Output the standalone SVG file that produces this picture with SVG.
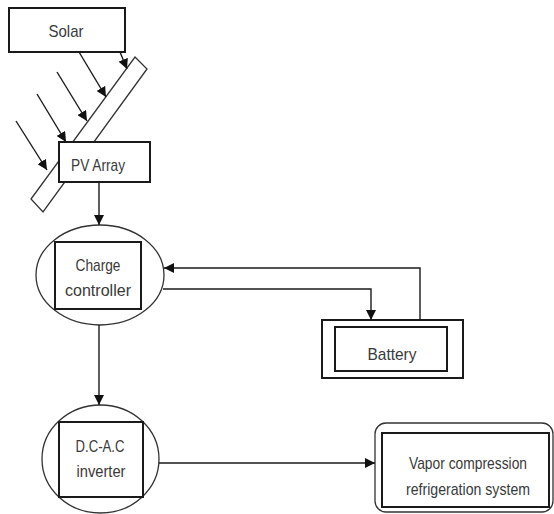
<svg xmlns="http://www.w3.org/2000/svg" width="554" height="514" viewBox="0 0 554 514">
<style>
  .box { fill: #fff; stroke: #1a1a1a; stroke-width: 2; }
  .thin { fill: #fff; stroke: #333; stroke-width: 1.3; }
  .edge { fill: none; stroke: #1a1a1a; stroke-width: 1.4; }
  .lbl { font-family: "Liberation Sans", Arial, sans-serif; font-size: 17px; fill: #3a3a3a; text-anchor: middle; }
</style>
<defs>
  <marker id="ah" viewBox="0 0 10 10" refX="10" refY="5" markerWidth="10" markerHeight="10" markerUnits="userSpaceOnUse" orient="auto">
    <path d="M0,0 L10,5 L0,10 z" fill="#111"/>
  </marker>
</defs>
<rect width="554" height="514" fill="#fff"/>

<g id="solar">
  <rect class="box" x="9" y="8" width="116" height="44"/>
  <text class="lbl" x="66" y="37" font-size="18" textLength="35" lengthAdjust="spacingAndGlyphs">Solar</text>
</g>

<g id="panel">
  <polygon class="thin" points="135,57 147,69 43,212 31,199" stroke-width="1.5"/>
</g>

<g id="rays">
  <line class="edge" x1="120" y1="52" x2="127" y2="69" marker-end="url(#ah)"/>
  <line class="edge" x1="79" y1="52" x2="106" y2="97" marker-end="url(#ah)"/>
  <line class="edge" x1="57" y1="72" x2="87" y2="121" marker-end="url(#ah)"/>
  <line class="edge" x1="37" y1="94" x2="66" y2="142" marker-end="url(#ah)"/>
  <line class="edge" x1="16" y1="121" x2="47" y2="170" marker-end="url(#ah)"/>
</g>

<g id="pv-array">
  <rect class="box" x="59" y="142" width="91" height="40"/>
  <text class="lbl" x="98" y="171" textLength="54" lengthAdjust="spacingAndGlyphs">PV Array</text>
</g>

<g id="charge-controller">
  <ellipse class="thin" cx="100" cy="275" rx="64" ry="50"/>
  <rect class="box" x="55" y="242" width="86" height="67"/>
  <text class="lbl" x="98" y="271" textLength="45" lengthAdjust="spacingAndGlyphs">Charge</text>
  <text class="lbl" x="98" y="296" textLength="66" lengthAdjust="spacingAndGlyphs">controller</text>
</g>

<g id="battery">
  <rect class="box" x="322" y="320" width="141" height="58"/>
  <rect class="box" x="335" y="327" width="112" height="44"/>
  <text class="lbl" x="392" y="360" textLength="49" lengthAdjust="spacingAndGlyphs">Battery</text>
</g>

<g id="inverter">
  <ellipse class="thin" cx="100.5" cy="459" rx="58.5" ry="54"/>
  <rect class="box" x="59" y="422" width="84" height="75"/>
  <text class="lbl" x="100" y="452" textLength="49" lengthAdjust="spacingAndGlyphs">D.C-A.C</text>
  <text class="lbl" x="101" y="477" textLength="49" lengthAdjust="spacingAndGlyphs">inverter</text>
</g>

<g id="vapor-system">
  <rect class="thin" x="375" y="423" width="178" height="89" rx="11" ry="11" stroke-width="1.6"/>
  <rect class="box" x="382" y="433" width="167" height="74" stroke-width="2.4"/>
  <text class="lbl" x="468" y="469" textLength="118" lengthAdjust="spacingAndGlyphs">Vapor compression</text>
  <text class="lbl" x="468" y="495" textLength="124" lengthAdjust="spacingAndGlyphs">refrigeration system</text>
</g>

<g id="connectors">
  <line class="edge" x1="99" y1="182" x2="99" y2="225" marker-end="url(#ah)"/>
  <polyline class="edge" points="163,289 371,289 371,320" marker-end="url(#ah)"/>
  <polyline class="edge" points="420,320 420,268 164,268" marker-end="url(#ah)"/>
  <line class="edge" x1="99" y1="325" x2="99" y2="405" marker-end="url(#ah)"/>
  <line class="edge" x1="159" y1="463" x2="375" y2="463" marker-end="url(#ah)"/>
</g>
</svg>
